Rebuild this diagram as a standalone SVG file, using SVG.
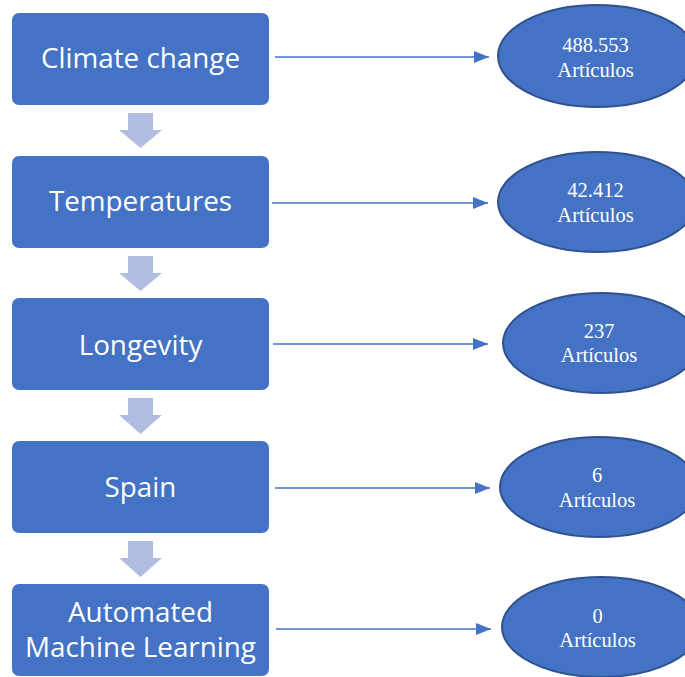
<svg xmlns="http://www.w3.org/2000/svg" width="685" height="677" viewBox="0 0 685 677">
<defs>
<style>
.box{fill:#4472C4;}
.btxt{fill:#FFFFFF;font-family:"Open Sans","Liberation Sans",sans-serif;font-size:27.8px;text-anchor:middle;}
.down{fill:#B0BDE0;}
.ell{fill:#4472C4;stroke:#2F528F;stroke-width:2;}
.etxt{fill:#FFFFFF;font-family:"Liberation Serif","Times New Roman",serif;font-size:20.5px;text-anchor:middle;}
.conn{stroke:#4472C4;stroke-width:1.3;fill:none;}
</style>
<marker id="ah" markerWidth="15" markerHeight="12" refX="15" refY="6" orient="auto" markerUnits="userSpaceOnUse">
<path d="M0,0 L15,6 L0,12 Z" fill="#4472C4"/>
</marker>
</defs>
<rect width="685" height="677" fill="#FFFFFF"/>

<g id="connectors">
<line class="conn" x1="275" y1="57" x2="489" y2="57" marker-end="url(#ah)"/>
<line class="conn" x1="272" y1="203" x2="488" y2="203" marker-end="url(#ah)"/>
<line class="conn" x1="273" y1="344" x2="488" y2="344" marker-end="url(#ah)"/>
<line class="conn" x1="275" y1="488" x2="490" y2="488" marker-end="url(#ah)"/>
<line class="conn" x1="276" y1="629" x2="491" y2="629" marker-end="url(#ah)"/>
</g>

<g id="down-arrows">
<path class="down" d="M128,113 L153,113 L153,130 L162,130 L140.5,148 L119,130 L128,130 Z"/>
<path class="down" d="M128,256 L153,256 L153,273 L162,273 L140.5,291 L119,273 L128,273 Z"/>
<path class="down" d="M128,398 L153,398 L153,415 L162,415 L140.5,434 L119,415 L128,415 Z"/>
<path class="down" d="M128,541 L153,541 L153,558 L162,558 L140.5,577 L119,558 L128,558 Z"/>
</g>

<g id="node-climate">
<rect class="box" x="12" y="13" width="257" height="92" rx="7"/>
<text class="btxt" x="140.5" y="68">Climate change</text>
</g>
<g id="node-temperatures">
<rect class="box" x="12" y="156" width="257" height="92" rx="7"/>
<text class="btxt" x="140.5" y="211">Temperatures</text>
</g>
<g id="node-longevity">
<rect class="box" x="12" y="298" width="257" height="92" rx="7"/>
<text class="btxt" x="140.5" y="355">Longevity</text>
</g>
<g id="node-spain">
<rect class="box" x="12" y="441" width="257" height="92" rx="7"/>
<text class="btxt" x="140.5" y="497">Spain</text>
</g>
<g id="node-automl">
<rect class="box" x="12" y="584" width="257" height="92" rx="7"/>
<text class="btxt" x="140.5" y="622">Automated</text>
<text class="btxt" x="140.5" y="657">Machine Learning</text>
</g>

<g id="result-1">
<ellipse class="ell" cx="597" cy="56" rx="99" ry="51"/>
<text class="etxt" x="595.5" y="52">488.553</text>
<text class="etxt" x="595.5" y="77">Artículos</text>
</g>
<g id="result-2">
<ellipse class="ell" cx="597" cy="202" rx="99" ry="50"/>
<text class="etxt" x="595.5" y="197">42.412</text>
<text class="etxt" x="595.5" y="222">Artículos</text>
</g>
<g id="result-3">
<ellipse class="ell" cx="601" cy="343" rx="98" ry="50"/>
<text class="etxt" x="599" y="338">237</text>
<text class="etxt" x="599" y="362">Artículos</text>
</g>
<g id="result-4">
<ellipse class="ell" cx="599" cy="487" rx="99" ry="50"/>
<text class="etxt" x="597" y="482">6</text>
<text class="etxt" x="597" y="507">Artículos</text>
</g>
<g id="result-5">
<ellipse class="ell" cx="601" cy="627" rx="99" ry="50"/>
<text class="etxt" x="597.5" y="623">0</text>
<text class="etxt" x="597.5" y="647">Artículos</text>
</g>
</svg>
